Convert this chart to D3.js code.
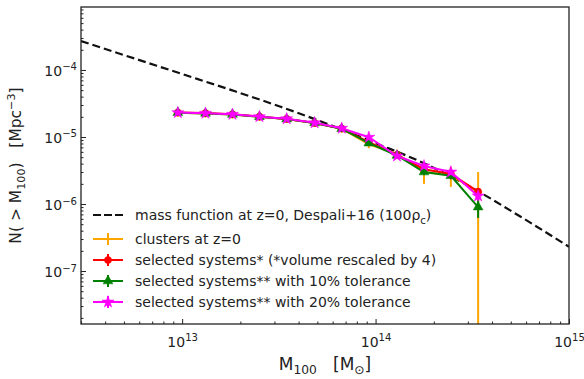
<!DOCTYPE html>
<html>
<head>
<meta charset="utf-8">
<script src="https://cdn.jsdelivr.net/npm/d3@7"></script>
<style>
  body { margin: 0; background: #fff; }
  svg text { font-family: "DejaVu Sans", sans-serif; fill: #222; }
</style>
</head>
<body>
<svg id="chart" width="584" height="379"></svg>
<script>
// halo mass bins (M_sun)
const massBins = [9.5e12, 1.32e13, 1.82e13, 2.51e13, 3.47e13, 4.84e13, 6.68e13, 9.23e13, 1.29e14, 1.78e14, 2.45e14, 3.39e14];

// cumulative number densities N(>M) [Mpc^-3]
const clustersN = [2.30e-5, 2.25e-5, 2.17e-5, 2.00e-5, 1.85e-5, 1.62e-5, 1.33e-5, 7.8e-6, 5.6e-6, 3.0e-6, 2.7e-6, 1.5e-6];
const clustersErr = [0.8e-6, 0.8e-6, 0.8e-6, 0.7e-6, 0.7e-6, 0.7e-6, 0.6e-6, 0.8e-6, 0.7e-6, 1.0e-6, 0.9e-6, 1.5e-6];
const selectedN = [2.32e-5, 2.27e-5, 2.18e-5, 2.01e-5, 1.86e-5, 1.62e-5, 1.34e-5, 8.4e-6, 5.4e-6, 3.3e-6, 2.8e-6, 1.53e-6];
const selectedErr = [0.4e-6, 0.4e-6, 0.4e-6, 0.4e-6, 0.4e-6, 0.3e-6, 0.3e-6, 0.3e-6, 0.3e-6, 0.3e-6, 0.3e-6, 0.2e-6];
const tol10N = [2.30e-5, 2.25e-5, 2.17e-5, 2.00e-5, 1.85e-5, 1.62e-5, 1.33e-5, 8.1e-6, 5.3e-6, 3.0e-6, 2.64e-6, 9.0e-7];
const tol10Err = [0.4e-6, 0.4e-6, 0.4e-6, 0.4e-6, 0.4e-6, 0.3e-6, 0.3e-6, 0.3e-6, 0.3e-6, 0.3e-6, 0.3e-6, 2.8e-7];
const tol20N = [2.31e-5, 2.26e-5, 2.18e-5, 2.01e-5, 1.87e-5, 1.63e-5, 1.35e-5, 9.9e-6, 5.2e-6, 3.7e-6, 3.0e-6, 1.32e-6];
const tol20Err = [0.4e-6, 0.4e-6, 0.4e-6, 0.4e-6, 0.4e-6, 0.3e-6, 0.3e-6, 0.3e-6, 0.3e-6, 0.3e-6, 0.3e-6, 0.2e-6];

// Despali+16 mass function (dashed)
const massFnM = [3.0e12, 5.6e12, 1.0e13, 1.8e13, 3.2e13, 5.6e13, 1.0e14, 1.8e14, 3.2e14, 5.6e14, 1.0e15];
const massFnN = [2.7e-4, 1.5e-4, 8.7e-5, 5.0e-5, 2.85e-5, 1.58e-5, 8.1e-6, 4.0e-6, 1.7e-6, 6.5e-7, 2.3e-7];

const xTickValues = [1e13, 1e14, 1e15];
const xTickExps = ['13', '14', '15'];
const yTickValues = [1e-7, 1e-6, 1e-5, 1e-4];
const yTickExps = ['\u22127', '\u22126', '\u22125', '\u22124'];

const legendLabels = [
  [['mass function at z=0, Despali+16 (100\u03c1', 'n'], ['c', 'sub'], [')', 'subEnd']],
  [['clusters at z=0', 'n']],
  [['selected systems* (*volume rescaled by 4)', 'n']],
  [['selected systems** with 10% tolerance', 'n']],
  [['selected systems** with 20% tolerance', 'n']]
];

const series = [
  { values: clustersN, errors: clustersErr, color: '#ffa500', marker: 'plus' },
  { values: selectedN, errors: selectedErr, color: '#ff0000', marker: 'circle' },
  { values: tol10N, errors: tol10Err, color: '#008000', marker: 'triangle' },
  { values: tol20N, errors: tol20Err, color: '#ff00ff', marker: 'star' }
];

const width = 584;
const height = 379;
const margin = { top: 7, right: 15, bottom: 55, left: 81 };
const plotW = width - margin.left - margin.right;
const plotH = height - margin.top - margin.bottom;

const svg = d3.select('#chart');
const g = svg.append('g').attr('transform', `translate(${margin.left},${margin.top})`);

const x = d3.scaleLog().domain([3.0e12, 1e15]).range([0, plotW]);
const y = d3.scaleLog().domain([1.62e-8, 8.7e-4]).range([plotH, 0]);

svg.append('defs').append('clipPath').attr('id', 'clip')
  .append('rect').attr('width', plotW).attr('height', plotH);

function richText(sel, parts, base) {
  parts.forEach(([str, kind]) => {
    const t = sel.append('tspan').text(str);
    if (kind === 'sup') {
      t.attr('font-size', base * 0.72).attr('dy', -base * 0.42);
    } else if (kind === 'sub') {
      t.attr('font-size', base * 0.72).attr('dy', base * 0.25);
    } else if (kind === 'supEnd') {
      t.attr('dy', base * 0.42);
    } else if (kind === 'subEnd') {
      t.attr('dy', -base * 0.25);
    }
  });
}

// axes: inward ticks
const minorX = x.ticks().filter((v) => !xTickValues.includes(v));
const minorY = y.ticks().filter((v) => !yTickValues.some((t) => Math.abs(t - v) / t < 1e-6));

const xMajor = g.append('g').attr('transform', `translate(0,${plotH})`)
  .call(d3.axisBottom(x).tickValues(xTickValues).tickSizeInner(-5).tickSizeOuter(0).tickPadding(6).tickFormat(() => ''));
g.append('g').attr('transform', `translate(0,${plotH})`)
  .call(d3.axisBottom(x).tickValues(minorX).tickSizeInner(-2.5).tickSizeOuter(0).tickFormat(() => ''));
const yMajor = g.append('g')
  .call(d3.axisLeft(y).tickValues(yTickValues).tickSizeInner(-5).tickSizeOuter(0).tickPadding(5).tickFormat(() => ''));
g.append('g')
  .call(d3.axisLeft(y).tickValues(minorY).tickSizeInner(-2.5).tickSizeOuter(0).tickFormat(() => ''));
g.selectAll('.domain').remove();
g.selectAll('.tick line').attr('stroke', '#222').attr('stroke-width', 1);

xMajor.selectAll('.tick text').each(function (d, i) {
  const t = d3.select(this).text(null).attr('y', 23).attr('dy', null)
    .attr('font-size', 14).attr('fill', '#222');
  richText(t, [['10', 'n'], [xTickExps[i], 'sup']], 14);
});
yMajor.selectAll('.tick text').each(function (d, i) {
  const t = d3.select(this).text(null).attr('x', -4).attr('dy', '0.42em')
    .attr('font-size', 14).attr('fill', '#222');
  richText(t, [['10', 'n'], [yTickExps[i], 'sup']], 14);
});

// data
const plot = g.append('g').attr('clip-path', 'url(#clip)');

const dashLine = d3.line()
  .x((d, i) => x(massFnM[i]))
  .y((d) => y(d))
  .curve(d3.curveMonotoneX);
plot.append('path')
  .attr('d', dashLine(massFnN))
  .attr('fill', 'none')
  .attr('stroke', '#111')
  .attr('stroke-width', 2.2)
  .attr('stroke-dasharray', '8,4');

function markerPath(kind) {
  if (kind === 'plus') return 'M-4,0H4M0,-4V4';
  if (kind === 'circle') return d3.symbol().type(d3.symbolCircle).size(40)();
  if (kind === 'triangle') return d3.symbol().type(d3.symbolTriangle).size(42)();
  return d3.symbol().type(d3.symbolStar).size(45)();
}

function drawMarker(sel, s, cx, cy) {
  const p = sel.append('path')
    .attr('d', markerPath(s.marker))
    .attr('transform', `translate(${cx},${cy})`);
  if (s.marker === 'plus') {
    p.attr('fill', 'none').attr('stroke', s.color).attr('stroke-width', 2);
  } else {
    p.attr('fill', s.color).attr('stroke', s.color).attr('stroke-width', 0.5);
  }
}

const seriesLine = d3.line().x((d, i) => x(massBins[i])).y((d) => y(d));

series.forEach((s) => {
  const sg = plot.append('g');
  sg.append('path')
    .attr('d', seriesLine(s.values))
    .attr('fill', 'none')
    .attr('stroke', s.color)
    .attr('stroke-width', 2);
  sg.selectAll('line.err')
    .data(s.values)
    .join('line')
    .attr('class', 'err')
    .attr('x1', (d, i) => x(massBins[i]))
    .attr('x2', (d, i) => x(massBins[i]))
    .attr('y1', (d, i) => y(d + s.errors[i]))
    .attr('y2', (d, i) => (d - s.errors[i] > 0 ? y(d - s.errors[i]) : plotH + 5))
    .attr('stroke', s.color)
    .attr('stroke-width', 2);
  s.values.forEach((d, i) => drawMarker(sg, s, x(massBins[i]), y(d)));
});

// frame
g.append('rect')
  .attr('width', plotW)
  .attr('height', plotH)
  .attr('fill', 'none')
  .attr('stroke', '#222')
  .attr('stroke-width', 1.3);

// legend
const legendRows = [215, 239, 260, 281, 302];
const legend = svg.append('g');
legendRows.forEach((ry, i) => {
  const row = legend.append('g').attr('transform', `translate(0,${ry})`);
  if (i === 0) {
    row.append('line').attr('x1', 93).attr('x2', 123)
      .attr('stroke', '#111').attr('stroke-width', 2.2).attr('stroke-dasharray', '8,3');
  } else {
    const s = series[i - 1];
    row.append('line').attr('x1', 93).attr('x2', 123)
      .attr('stroke', s.color).attr('stroke-width', 2);
    row.append('line').attr('x1', 108).attr('x2', 108).attr('y1', -6).attr('y2', 6)
      .attr('stroke', s.color).attr('stroke-width', 2);
    drawMarker(row, s, 108, 0);
  }
  const t = row.append('text').attr('x', 135).attr('y', 5).attr('font-size', 14);
  richText(t, legendLabels[i], 14);
});

// axis labels
const xl = svg.append('text')
  .attr('x', margin.left + plotW / 2)
  .attr('y', 370)
  .attr('text-anchor', 'middle')
  .attr('font-size', 17)
  .style('white-space', 'pre');
richText(xl, [['M', 'n'], ['100', 'sub'], ['   [M', 'subEnd'], ['\u2299', 'sub'], [']', 'subEnd']], 17);

const yl = svg.append('text')
  .attr('transform', `translate(21,${margin.top + plotH / 2}) rotate(-90)`)
  .attr('text-anchor', 'middle')
  .attr('font-size', 15.5)
  .style('white-space', 'pre');
richText(yl, [['N( > M', 'n'], ['100', 'sub'], [')   [Mpc', 'subEnd'], ['\u22123', 'sup'], [']', 'supEnd']], 15.5);
</script>
</body>
</html>
